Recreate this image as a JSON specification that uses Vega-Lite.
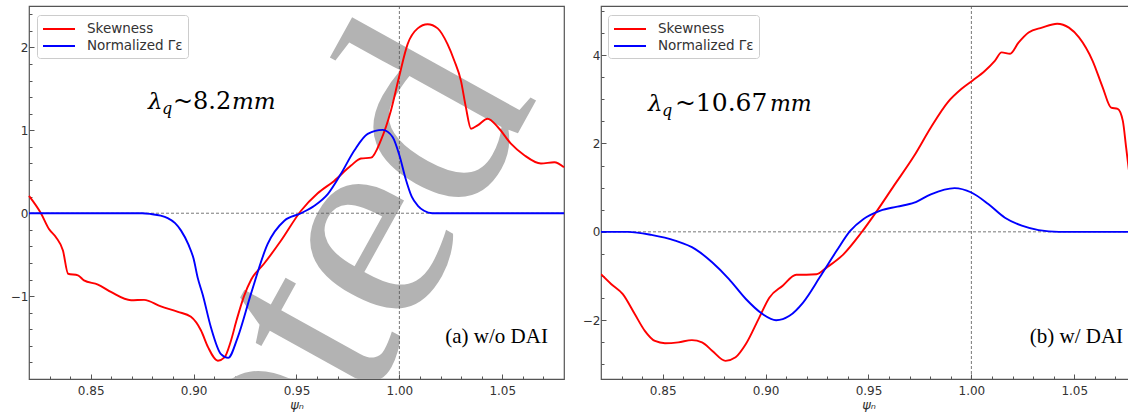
{
  "$schema": "https://vega.github.io/schema/vega-lite/v6.json",
  "background": "white",
  "padding": {"left": 3, "top": 5, "right": 0, "bottom": 0},
  "spacing": 6,
  "resolve": {"scale": {"color": "independent"}, "legend": {"color": "independent"}},
  "config": {
    "view": {"stroke": "#555", "strokeWidth": 1.2},
    "axis": {"labelFont": "DejaVu Sans", "labelFontSize": 12, "labelColor": "#333", "tickColor": "#555", "tickWidth": 1, "domain": false, "grid": false, "titleFont": "DejaVu Sans", "titleFontStyle": "italic", "titleFontWeight": "normal", "titleFontSize": 13, "titleColor": "#333", "labelFlush": false, "labelOverlap": false, "labelBound": false},
    "axisX": {"labelPadding": 11, "titlePadding": 2},
    "axisY": {"minExtent": 25, "maxExtent": 25, "labelPadding": 6},
    "legend": {"symbolType": "M-2,0L2,0", "symbolSize": 256, "symbolStrokeWidth": 2, "symbolOffset": 8, "labelFont": "DejaVu Sans", "labelFontSize": 13.5, "labelColor": "#333", "fillColor": "white", "strokeColor": "#ccc", "padding": 5, "cornerRadius": 3, "rowPadding": 1, "labelOffset": 19}
  },
  "datasets": {
    "left": [
      {"series": "Skewness", "psi": 0.820, "value": 0.21},
      {"series": "Skewness", "psi": 0.8258, "value": 0.0},
      {"series": "Skewness", "psi": 0.8297, "value": -0.19},
      {"series": "Skewness", "psi": 0.8331, "value": -0.29},
      {"series": "Skewness", "psi": 0.8365, "value": -0.45},
      {"series": "Skewness", "psi": 0.839, "value": -0.73},
      {"series": "Skewness", "psi": 0.8438, "value": -0.75},
      {"series": "Skewness", "psi": 0.8467, "value": -0.81},
      {"series": "Skewness", "psi": 0.8535, "value": -0.86},
      {"series": "Skewness", "psi": 0.8598, "value": -0.95},
      {"series": "Skewness", "psi": 0.8696, "value": -1.05},
      {"series": "Skewness", "psi": 0.8759, "value": -1.045},
      {"series": "Skewness", "psi": 0.8841, "value": -1.125},
      {"series": "Skewness", "psi": 0.8924, "value": -1.19},
      {"series": "Skewness", "psi": 0.8987, "value": -1.25},
      {"series": "Skewness", "psi": 0.9036, "value": -1.415},
      {"series": "Skewness", "psi": 0.907, "value": -1.615},
      {"series": "Skewness", "psi": 0.9118, "value": -1.78},
      {"series": "Skewness", "psi": 0.915, "value": -1.74},
      {"series": "Skewness", "psi": 0.918, "value": -1.55},
      {"series": "Skewness", "psi": 0.921, "value": -1.28},
      {"series": "Skewness", "psi": 0.9245, "value": -1.0},
      {"series": "Skewness", "psi": 0.928, "value": -0.8},
      {"series": "Skewness", "psi": 0.9342, "value": -0.61},
      {"series": "Skewness", "psi": 0.9425, "value": -0.33},
      {"series": "Skewness", "psi": 0.9522, "value": 0.03},
      {"series": "Skewness", "psi": 0.9603, "value": 0.24},
      {"series": "Skewness", "psi": 0.9683, "value": 0.39},
      {"series": "Skewness", "psi": 0.9765, "value": 0.575},
      {"series": "Skewness", "psi": 0.9813, "value": 0.66},
      {"series": "Skewness", "psi": 0.9862, "value": 0.67},
      {"series": "Skewness", "psi": 0.991, "value": 0.88},
      {"series": "Skewness", "psi": 0.9959, "value": 1.24},
      {"series": "Skewness", "psi": 0.9998, "value": 1.64},
      {"series": "Skewness", "psi": 1.004, "value": 2.04},
      {"series": "Skewness", "psi": 1.0089, "value": 2.23},
      {"series": "Skewness", "psi": 1.0137, "value": 2.28},
      {"series": "Skewness", "psi": 1.0186, "value": 2.23},
      {"series": "Skewness", "psi": 1.0234, "value": 2.04},
      {"series": "Skewness", "psi": 1.0267, "value": 1.84},
      {"series": "Skewness", "psi": 1.0299, "value": 1.6},
      {"series": "Skewness", "psi": 1.0323, "value": 1.28},
      {"series": "Skewness", "psi": 1.0348, "value": 1.02},
      {"series": "Skewness", "psi": 1.038, "value": 1.06},
      {"series": "Skewness", "psi": 1.0429, "value": 1.14},
      {"series": "Skewness", "psi": 1.0478, "value": 1.04},
      {"series": "Skewness", "psi": 1.0542, "value": 0.84},
      {"series": "Skewness", "psi": 1.0607, "value": 0.7},
      {"series": "Skewness", "psi": 1.0688, "value": 0.6},
      {"series": "Skewness", "psi": 1.0753, "value": 0.615},
      {"series": "Skewness", "psi": 1.08, "value": 0.555},
      {"series": "Normalized Γε", "psi": 0.820, "value": 0.0},
      {"series": "Normalized Γε", "psi": 0.875, "value": 0.0},
      {"series": "Normalized Γε", "psi": 0.8793, "value": -0.01},
      {"series": "Normalized Γε", "psi": 0.884, "value": -0.03},
      {"series": "Normalized Γε", "psi": 0.8874, "value": -0.06},
      {"series": "Normalized Γε", "psi": 0.891, "value": -0.12},
      {"series": "Normalized Γε", "psi": 0.8939, "value": -0.21},
      {"series": "Normalized Γε", "psi": 0.8975, "value": -0.38},
      {"series": "Normalized Γε", "psi": 0.9, "value": -0.55},
      {"series": "Normalized Γε", "psi": 0.902, "value": -0.78},
      {"series": "Normalized Γε", "psi": 0.9044, "value": -0.98},
      {"series": "Normalized Γε", "psi": 0.9084, "value": -1.375},
      {"series": "Normalized Γε", "psi": 0.9133, "value": -1.7},
      {"series": "Normalized Γε", "psi": 0.9168, "value": -1.745},
      {"series": "Normalized Γε", "psi": 0.9214, "value": -1.5},
      {"series": "Normalized Γε", "psi": 0.9279, "value": -0.97},
      {"series": "Normalized Γε", "psi": 0.936, "value": -0.37},
      {"series": "Normalized Γε", "psi": 0.9441, "value": -0.09},
      {"series": "Normalized Γε", "psi": 0.9522, "value": 0.0},
      {"series": "Normalized Γε", "psi": 0.9587, "value": 0.09},
      {"series": "Normalized Γε", "psi": 0.9652, "value": 0.23},
      {"series": "Normalized Γε", "psi": 0.9716, "value": 0.475},
      {"series": "Normalized Γε", "psi": 0.9781, "value": 0.756},
      {"series": "Normalized Γε", "psi": 0.9846, "value": 0.958},
      {"series": "Normalized Γε", "psi": 0.9919, "value": 1.006},
      {"series": "Normalized Γε", "psi": 0.9967, "value": 0.92},
      {"series": "Normalized Γε", "psi": 1.0, "value": 0.7},
      {"series": "Normalized Γε", "psi": 1.003, "value": 0.42},
      {"series": "Normalized Γε", "psi": 1.006, "value": 0.2},
      {"series": "Normalized Γε", "psi": 1.009, "value": 0.09},
      {"series": "Normalized Γε", "psi": 1.012, "value": 0.03},
      {"series": "Normalized Γε", "psi": 1.016, "value": 0.0},
      {"series": "Normalized Γε", "psi": 1.08, "value": 0.0}
    ],
    "right": [
      {"series": "Skewness", "psi": 0.82, "value": -0.96},
      {"series": "Skewness", "psi": 0.8249, "value": -1.18},
      {"series": "Skewness", "psi": 0.8306, "value": -1.41},
      {"series": "Skewness", "psi": 0.8364, "value": -1.86},
      {"series": "Skewness", "psi": 0.8413, "value": -2.24},
      {"series": "Skewness", "psi": 0.8462, "value": -2.47},
      {"series": "Skewness", "psi": 0.8511, "value": -2.52},
      {"series": "Skewness", "psi": 0.8576, "value": -2.5},
      {"series": "Skewness", "psi": 0.8642, "value": -2.45},
      {"series": "Skewness", "psi": 0.8691, "value": -2.5},
      {"series": "Skewness", "psi": 0.874, "value": -2.69},
      {"series": "Skewness", "psi": 0.8805, "value": -2.92},
      {"series": "Skewness", "psi": 0.8854, "value": -2.84},
      {"series": "Skewness", "psi": 0.8904, "value": -2.54},
      {"series": "Skewness", "psi": 0.8969, "value": -1.94},
      {"series": "Skewness", "psi": 0.9018, "value": -1.49},
      {"series": "Skewness", "psi": 0.9083, "value": -1.22},
      {"series": "Skewness", "psi": 0.9149, "value": -0.97},
      {"series": "Skewness", "psi": 0.9198, "value": -0.97},
      {"series": "Skewness", "psi": 0.9247, "value": -0.96},
      {"series": "Skewness", "psi": 0.9296, "value": -0.81},
      {"series": "Skewness", "psi": 0.9378, "value": -0.51},
      {"series": "Skewness", "psi": 0.946, "value": -0.05},
      {"series": "Skewness", "psi": 0.9542, "value": 0.48},
      {"series": "Skewness", "psi": 0.9623, "value": 1.04},
      {"series": "Skewness", "psi": 0.9722, "value": 1.72},
      {"series": "Skewness", "psi": 0.9803, "value": 2.36},
      {"series": "Skewness", "psi": 0.9885, "value": 2.93},
      {"series": "Skewness", "psi": 0.9951, "value": 3.23},
      {"series": "Skewness", "psi": 1.0005, "value": 3.42},
      {"series": "Skewness", "psi": 1.0065, "value": 3.64},
      {"series": "Skewness", "psi": 1.0114, "value": 3.87},
      {"series": "Skewness", "psi": 1.0147, "value": 4.06},
      {"series": "Skewness", "psi": 1.0188, "value": 4.03},
      {"series": "Skewness", "psi": 1.0229, "value": 4.28},
      {"series": "Skewness", "psi": 1.0278, "value": 4.51},
      {"series": "Skewness", "psi": 1.0343, "value": 4.62},
      {"series": "Skewness", "psi": 1.0417, "value": 4.71},
      {"series": "Skewness", "psi": 1.0474, "value": 4.62},
      {"series": "Skewness", "psi": 1.0523, "value": 4.4},
      {"series": "Skewness", "psi": 1.0589, "value": 3.87},
      {"series": "Skewness", "psi": 1.0638, "value": 3.27},
      {"series": "Skewness", "psi": 1.0679, "value": 2.81},
      {"series": "Skewness", "psi": 1.0711, "value": 2.78},
      {"series": "Skewness", "psi": 1.0736, "value": 2.51},
      {"series": "Skewness", "psi": 1.0752, "value": 1.91},
      {"series": "Skewness", "psi": 1.0766, "value": 1.38},
      {"series": "Skewness", "psi": 1.08, "value": 0.6},
      {"series": "Normalized Γε", "psi": 0.82, "value": 0.0},
      {"series": "Normalized Γε", "psi": 0.8331, "value": 0.0},
      {"series": "Normalized Γε", "psi": 0.8445, "value": -0.07},
      {"series": "Normalized Γε", "psi": 0.856, "value": -0.2},
      {"series": "Normalized Γε", "psi": 0.8658, "value": -0.39},
      {"series": "Normalized Γε", "psi": 0.874, "value": -0.69},
      {"series": "Normalized Γε", "psi": 0.8822, "value": -1.07},
      {"series": "Normalized Γε", "psi": 0.8904, "value": -1.52},
      {"series": "Normalized Γε", "psi": 0.8985, "value": -1.86},
      {"series": "Normalized Γε", "psi": 0.9051, "value": -2.0},
      {"series": "Normalized Γε", "psi": 0.9116, "value": -1.9},
      {"series": "Normalized Γε", "psi": 0.9182, "value": -1.6},
      {"series": "Normalized Γε", "psi": 0.9263, "value": -1.03},
      {"series": "Normalized Γε", "psi": 0.9345, "value": -0.43},
      {"series": "Normalized Γε", "psi": 0.9411, "value": 0.02},
      {"series": "Normalized Γε", "psi": 0.9476, "value": 0.29},
      {"series": "Normalized Γε", "psi": 0.9558, "value": 0.48},
      {"series": "Normalized Γε", "psi": 0.964, "value": 0.57},
      {"series": "Normalized Γε", "psi": 0.9722, "value": 0.66},
      {"series": "Normalized Γε", "psi": 0.9803, "value": 0.85},
      {"series": "Normalized Γε", "psi": 0.9918, "value": 0.99},
      {"series": "Normalized Γε", "psi": 1.0, "value": 0.89},
      {"series": "Normalized Γε", "psi": 1.0082, "value": 0.63},
      {"series": "Normalized Γε", "psi": 1.0163, "value": 0.32},
      {"series": "Normalized Γε", "psi": 1.0245, "value": 0.14},
      {"series": "Normalized Γε", "psi": 1.0327, "value": 0.04},
      {"series": "Normalized Γε", "psi": 1.0425, "value": 0.0},
      {"series": "Normalized Γε", "psi": 1.08, "value": 0.0}
    ]
  },
  "hconcat": [
    {
      "width": 535,
      "height": 373,
      "resolve": {"axis": {"x": "independent", "y": "independent"}},
      "layer": [
        {
          "data": {"values": [{}]},
          "mark": {"type": "text", "clip": true, "font": "Liberation Serif", "fontSize": 290, "angle": -61, "align": "left", "baseline": "alphabetic", "color": "#b3b3b3"},
          "encoding": {"x": {"datum": 0.8093, "type": "quantitative", "axis": null}, "y": {"datum": -10.155, "type": "quantitative", "axis": null}, "text": {"value": "Accepted"}}
        },
        {
          "data": {"values": [{}]},
          "mark": {"type": "rule", "strokeDash": [3, 2], "color": "#555", "strokeWidth": 0.8},
          "encoding": {"y": {"datum": 0, "type": "quantitative",
            "axis": {"orient": "left", "title": null, "labels": false, "tickSize": -3, "values": [-1.8,-1.6,-1.4,-1.2,-0.8,-0.6,-0.4,-0.2,0.2,0.4,0.6,0.8,1.2,1.4,1.6,1.8,2.2,2.4]}}}
        },
        {
          "data": {"values": [{}]},
          "mark": {"type": "rule", "strokeDash": [3, 2], "color": "#555", "strokeWidth": 0.8},
          "encoding": {"x": {"datum": 1.0, "type": "quantitative",
            "axis": {"orient": "bottom", "title": null, "labels": false, "tickSize": -3, "values": [0.83,0.84,0.86,0.87,0.88,0.89,0.91,0.92,0.93,0.94,0.96,0.97,0.98,0.99,1.01,1.02,1.03,1.04,1.06,1.07]}}}
        },
        {
          "data": {"name": "left"},
          "mark": {"type": "line", "strokeWidth": 1.9, "interpolate": "monotone"},
          "encoding": {
            "x": {"field": "psi", "type": "quantitative", "scale": {"domain": [0.82, 1.08], "nice": false, "zero": false},
              "axis": {"orient": "bottom", "title": "ψₙ", "values": [0.85, 0.9, 0.95, 1.0, 1.05], "format": ".2f", "tickSize": -5}},
            "y": {"field": "value", "type": "quantitative", "scale": {"domain": [-2, 2.5], "nice": false, "zero": false},
              "axis": {"orient": "left", "title": null, "values": [-1, 0, 1, 2], "format": "d", "tickSize": -5}},
            "color": {"field": "series", "type": "nominal", "sort": null,
              "scale": {"domain": ["Skewness", "Normalized Γε"], "range": ["#ff0000", "#0000ff"]},
              "legend": {"title": null, "orient": "none", "legendX": 8, "legendY": 9}}
          }
        },
        {
          "data": {"values": [{}]},
          "mark": {"type": "text", "font": "DejaVu Serif", "fontSize": 23, "fontStyle": "italic", "align": "left", "baseline": "alphabetic", "color": "black"},
          "encoding": {"x": {"datum": 0.8778, "type": "quantitative", "axis": null}, "y": {"datum": 1.263, "type": "quantitative", "axis": null}, "text": {"value": "λ"}}
        },
        {
          "data": {"values": [{}]},
          "mark": {"type": "text", "font": "DejaVu Serif", "fontSize": 16, "fontStyle": "italic", "align": "left", "baseline": "alphabetic", "color": "black", "dx": 14, "dy": 5},
          "encoding": {"x": {"datum": 0.8778, "type": "quantitative", "axis": null}, "y": {"datum": 1.263, "type": "quantitative", "axis": null}, "text": {"value": "q"}}
        },
        {
          "data": {"values": [{}]},
          "mark": {"type": "text", "font": "DejaVu Serif", "fontSize": 24, "align": "left", "baseline": "alphabetic", "color": "black", "dx": 25},
          "encoding": {"x": {"datum": 0.8778, "type": "quantitative", "axis": null}, "y": {"datum": 1.263, "type": "quantitative", "axis": null}, "text": {"value": "~8.2"}}
        },
        {
          "data": {"values": [{}]},
          "mark": {"type": "text", "font": "DejaVu Serif", "fontSize": 23, "fontStyle": "italic", "align": "left", "baseline": "alphabetic", "color": "black", "dx": 84},
          "encoding": {"x": {"datum": 0.8778, "type": "quantitative", "axis": null}, "y": {"datum": 1.263, "type": "quantitative", "axis": null}, "text": {"value": "mm"}}
        },
        {
          "data": {"values": [{}]},
          "mark": {"type": "text", "font": "Liberation Serif", "fontSize": 21, "align": "right", "baseline": "alphabetic", "color": "black"},
          "encoding": {"x": {"datum": 1.0722, "type": "quantitative", "axis": null}, "y": {"datum": -1.56, "type": "quantitative", "axis": null}, "text": {"value": "(a) w/o DAI"}}
        }
      ]
    },
    {
      "width": 535,
      "height": 373,
      "resolve": {"axis": {"x": "independent", "y": "independent"}},
      "layer": [
        {
          "data": {"values": [{}]},
          "mark": {"type": "rule", "strokeDash": [3, 2], "color": "#555", "strokeWidth": 0.8},
          "encoding": {"y": {"datum": 0, "type": "quantitative",
            "axis": {"orient": "left", "title": null, "labels": false, "tickSize": -3, "values": [-3,-2.5,-1.5,-1,-0.5,0.5,1,1.5,2.5,3,3.5,4.5,5]}}}
        },
        {
          "data": {"values": [{}]},
          "mark": {"type": "rule", "strokeDash": [3, 2], "color": "#555", "strokeWidth": 0.8},
          "encoding": {"x": {"datum": 1.0, "type": "quantitative",
            "axis": {"orient": "bottom", "title": null, "labels": false, "tickSize": -3, "values": [0.83,0.84,0.86,0.87,0.88,0.89,0.91,0.92,0.93,0.94,0.96,0.97,0.98,0.99,1.01,1.02,1.03,1.04,1.06,1.07]}}}
        },
        {
          "data": {"name": "right"},
          "mark": {"type": "line", "strokeWidth": 1.9, "interpolate": "monotone", "clip": true},
          "encoding": {
            "x": {"field": "psi", "type": "quantitative", "scale": {"domain": [0.82, 1.08], "nice": false, "zero": false},
              "axis": {"orient": "bottom", "title": "ψₙ", "values": [0.85, 0.9, 0.95, 1.0, 1.05], "format": ".2f", "tickSize": -5}},
            "y": {"field": "value", "type": "quantitative", "scale": {"domain": [-3.33, 5.11], "nice": false, "zero": false},
              "axis": {"orient": "left", "title": null, "values": [-2, 0, 2, 4], "format": "d", "tickSize": -5}},
            "color": {"field": "series", "type": "nominal", "sort": null,
              "scale": {"domain": ["Skewness", "Normalized Γε"], "range": ["#ff0000", "#0000ff"]},
              "legend": {"title": null, "orient": "none", "legendX": 7, "legendY": 9}}
          }
        },
        {
          "data": {"values": [{}]},
          "mark": {"type": "text", "font": "DejaVu Serif", "fontSize": 23, "fontStyle": "italic", "align": "left", "baseline": "alphabetic", "color": "black"},
          "encoding": {"x": {"datum": 0.8428, "type": "quantitative", "axis": null}, "y": {"datum": 2.74, "type": "quantitative", "axis": null}, "text": {"value": "λ"}}
        },
        {
          "data": {"values": [{}]},
          "mark": {"type": "text", "font": "DejaVu Serif", "fontSize": 16, "fontStyle": "italic", "align": "left", "baseline": "alphabetic", "color": "black", "dx": 14, "dy": 5},
          "encoding": {"x": {"datum": 0.8428, "type": "quantitative", "axis": null}, "y": {"datum": 2.74, "type": "quantitative", "axis": null}, "text": {"value": "q"}}
        },
        {
          "data": {"values": [{}]},
          "mark": {"type": "text", "font": "DejaVu Serif", "fontSize": 25, "align": "left", "baseline": "alphabetic", "color": "black", "dx": 27},
          "encoding": {"x": {"datum": 0.8428, "type": "quantitative", "axis": null}, "y": {"datum": 2.74, "type": "quantitative", "axis": null}, "text": {"value": "~10.67"}}
        },
        {
          "data": {"values": [{}]},
          "mark": {"type": "text", "font": "DejaVu Serif", "fontSize": 22, "fontStyle": "italic", "align": "left", "baseline": "alphabetic", "color": "black", "dx": 122},
          "encoding": {"x": {"datum": 0.8428, "type": "quantitative", "axis": null}, "y": {"datum": 2.74, "type": "quantitative", "axis": null}, "text": {"value": "mm"}}
        },
        {
          "data": {"values": [{}]},
          "mark": {"type": "text", "font": "Liberation Serif", "fontSize": 21, "align": "right", "baseline": "alphabetic", "color": "black"},
          "encoding": {"x": {"datum": 1.0737, "type": "quantitative", "axis": null}, "y": {"datum": -2.51, "type": "quantitative", "axis": null}, "text": {"value": "(b) w/ DAI"}}
        }
      ]
    }
  ]
}
